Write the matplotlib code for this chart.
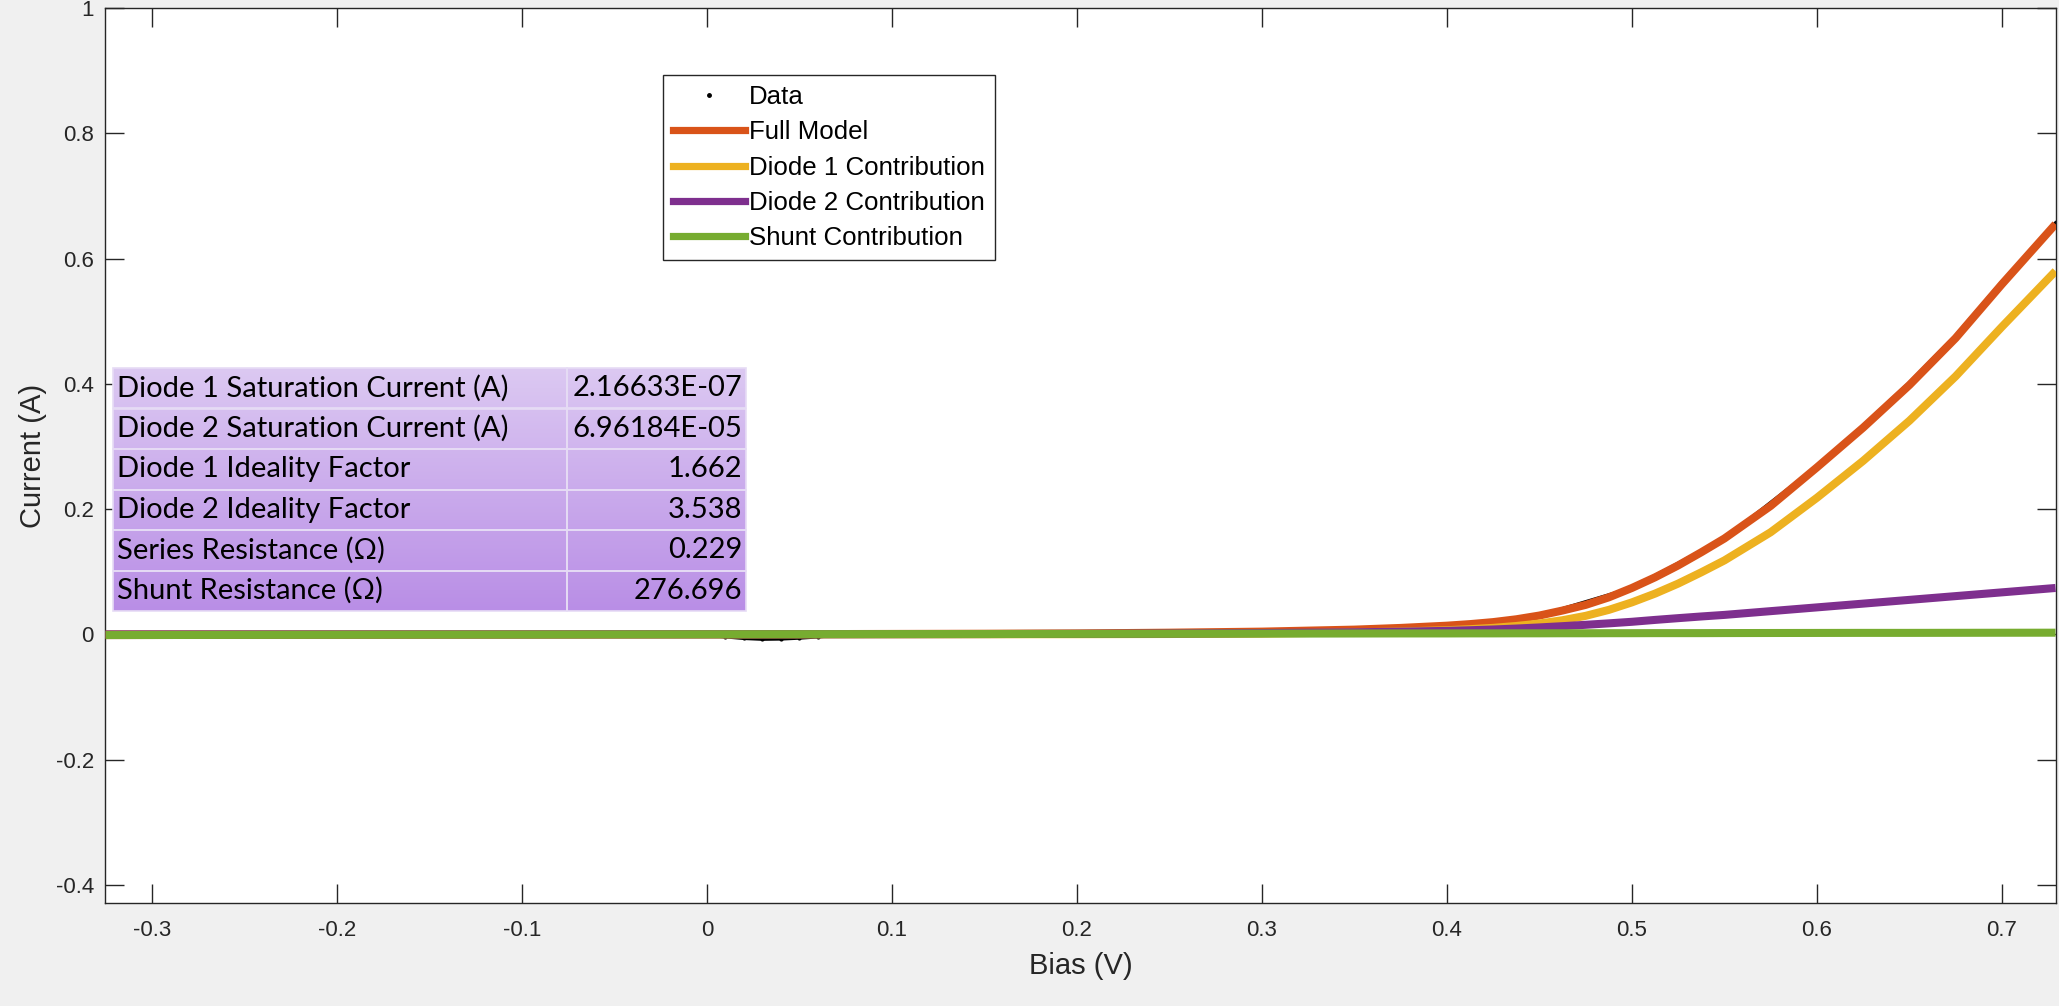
import numpy as np
import matplotlib
matplotlib.use("Agg")
import matplotlib.pyplot as plt
from matplotlib.lines import Line2D
from matplotlib.colors import LinearSegmentedColormap
from matplotlib import font_manager
from matplotlib.ticker import FuncFormatter

# model curves at these bias points
bias = [-0.325, -0.3, -0.25, -0.2, -0.15, -0.1, -0.05, 0.0, 0.05, 0.1, 0.15, 0.2, 0.25, 0.3,
        0.35, 0.375, 0.4, 0.4125, 0.425, 0.4375, 0.45, 0.4625, 0.475, 0.4875, 0.5, 0.5125,
        0.525, 0.5375, 0.55, 0.575, 0.6, 0.625, 0.65, 0.675, 0.7, 0.729]
full_model = [-0.0012, -0.0011, -0.0009, -0.0007, -0.0005, -0.0004, -0.0002, 0.0, 0.0003, 0.0006,
              0.0009, 0.0014, 0.0026, 0.0043, 0.0075, 0.0102, 0.0138, 0.0163, 0.0195, 0.024,
              0.030, 0.038, 0.047, 0.059, 0.074, 0.091, 0.110, 0.131, 0.153, 0.205, 0.2665,
              0.330, 0.398, 0.473, 0.559, 0.655]
diode1 = [0.0, 0.0, 0.0, 0.0, 0.0, 0.0, 0.0, 0.0, 0.0, 0.0, 0.0001, 0.0002, 0.0005, 0.0012,
          0.003, 0.0045, 0.0066, 0.0082, 0.0103, 0.0133, 0.0172, 0.0225, 0.0295, 0.039, 0.051,
          0.065, 0.081, 0.099, 0.118, 0.163, 0.218, 0.277, 0.341, 0.412, 0.491, 0.580]
diode2 = [-0.0001, -0.0001, -0.0001, -0.0001, -0.0001, -0.0001, 0.0, 0.0, 0.0001, 0.0002, 0.0004,
          0.0007, 0.0012, 0.002, 0.0032, 0.0042, 0.0055, 0.0065, 0.0077, 0.0092, 0.011, 0.013,
          0.0152, 0.0175, 0.020, 0.023, 0.0258, 0.0285, 0.031, 0.037, 0.043, 0.049, 0.055,
          0.061, 0.067, 0.074]
shunt = [-0.0012, -0.0011, -0.0009, -0.0007, -0.0005, -0.0004, -0.0002, 0.0, 0.0002, 0.0004,
         0.0005, 0.0007, 0.0009, 0.0011, 0.0013, 0.0014, 0.0014, 0.0015, 0.0015, 0.0016, 0.0016,
         0.0017, 0.0017, 0.0018, 0.0018, 0.0019, 0.0019, 0.0019, 0.0020, 0.0021, 0.0022,
         0.0023, 0.0023, 0.0024, 0.0025, 0.0026]

# measured data
data_bias = [-0.325, -0.3, -0.25, -0.2, -0.15, -0.1, -0.05, -0.02, 0.0, 0.01, 0.02, 0.03, 0.04,
             0.05, 0.06, 0.07, 0.1, 0.15, 0.2, 0.25, 0.3, 0.35, 0.4, 0.45, 0.5, 0.55, 0.6, 0.625,
             0.65, 0.675, 0.7, 0.729]
data_current = [-0.0012, -0.0011, -0.0009, -0.0007, -0.0005, -0.0004, -0.0003, -0.0005, -0.0015,
                -0.004, -0.0065, -0.0078, -0.0074, -0.006, -0.004, -0.0015, 0.0005, 0.0009, 0.0014,
                0.0026, 0.0043, 0.0075, 0.0138, 0.030, 0.074, 0.153, 0.268, 0.333, 0.402, 0.477,
                0.563, 0.657]

param_names = ['Diode 1 Saturation Current (A)', 'Diode 2 Saturation Current (A)',
               'Diode 1 Ideality Factor', 'Diode 2 Ideality Factor',
               'Series Resistance (\u03a9)', 'Shunt Resistance (\u03a9)']
param_values = ['2.16633E-07', '6.96184E-05', '1.662', '3.538', '0.229', '276.696']

legend_labels = ['Data', 'Full Model', 'Diode 1 Contribution', 'Diode 2 Contribution',
                 'Shunt Contribution']
colors = ['#D95319', '#EDB120', '#7E2F8E', '#77AC30']

plt.rcParams['font.family'] = ['Liberation Sans', 'DejaVu Sans']
txt = '#262626'

fig = plt.figure(figsize=(20.59, 10.06), dpi=100, facecolor='#f0f0f0')
ax = fig.add_axes([0.051, 0.1024, 0.9475, 0.8896])
ax.set_facecolor('white')

ax.plot(data_bias, data_current, color='k', lw=2.4, marker='.', ms=4, zorder=2)
series = [full_model, diode1, diode2, shunt]
for i, s in enumerate(series):
    ax.plot(bias, s, color=colors[i], lw=5.8, solid_capstyle='butt',
            solid_joinstyle='round', zorder=3 + i)

ax.set_xlim(-0.3254, 0.7292)
ax.set_ylim(-0.429, 1.0)
ax.set_xticks(np.arange(-0.3, 0.71, 0.1))
ax.set_yticks(np.arange(-0.4, 1.01, 0.2))
fmt = FuncFormatter(lambda v, p: '%g' % round(v, 2))
ax.xaxis.set_major_formatter(fmt)
ax.yaxis.set_major_formatter(fmt)
ax.tick_params(direction='in', length=13.5, width=1.0, color=txt, labelcolor=txt,
               labelsize=16, top=True, right=True, pad=8)
ax.tick_params(axis='x', pad=12)
for sp in ax.spines.values():
    sp.set_color(txt)
    sp.set_linewidth(1.0)
ax.set_xlabel('Bias (V)', fontsize=21, color=txt, labelpad=8)
ax.set_ylabel('Current (A)', fontsize=21, color=txt, labelpad=6)

handles = [Line2D([], [], ls='none', marker='.', color='k', ms=5)]
handles += [Line2D([], [], color=c, lw=5.2) for c in colors]
leg = ax.legend(handles, legend_labels, loc='upper left',
                bbox_to_anchor=(663 / 2059, 1 - 75 / 1006), bbox_transform=fig.transFigure,
                fontsize=18.6, frameon=True, fancybox=False, framealpha=1, edgecolor='#262626',
                handlelength=2.8, handletextpad=0.16, labelspacing=0.44, borderpad=0.38,
                borderaxespad=0)
leg.get_frame().set_linewidth(1.0)
for t in leg.get_texts():
    t.set_color('black')

# parameter table with purple gradient
names = {f.name for f in font_manager.fontManager.ttflist}
tfont = 'Liberation Sans Narrow' if 'Liberation Sans Narrow' in names else 'Lato'
tax = fig.add_axes([113 / 2059, 1 - 611 / 1006, 633 / 2059, 243 / 1006])
cmap = LinearSegmentedColormap.from_list('lav', ['#dcc9f2', '#b98ee6'])
tax.imshow(np.linspace(0, 1, 256).reshape(-1, 1), cmap=cmap, aspect='auto',
           extent=[0, 1, 0, 1], zorder=0)
tax.set_xlim(0, 1)
tax.set_ylim(0, 1)
tax.axis('off')
cells = [[n, v] for n, v in zip(param_names, param_values)]
tbl = tax.table(cellText=cells, colWidths=[0.717, 0.283], bbox=[0, 0, 1, 1])
tbl.auto_set_font_size(False)
tbl.set_fontsize(21)
for (r, c), cell in tbl.get_celld().items():
    cell.set_facecolor('none')
    cell.set_edgecolor('#e6dcf5')
    cell.set_linewidth(1.2)
    cell.PAD = 0.009 if c == 0 else 0.022
    cell.get_text().set_fontfamily(tfont)
    cell.get_text().set_color('black')
    cell._loc = 'left' if c == 0 else 'right'
    cell.get_text().set_horizontalalignment('left' if c == 0 else 'right')

fig.savefig('out.png', dpi=100, facecolor=fig.get_facecolor())
